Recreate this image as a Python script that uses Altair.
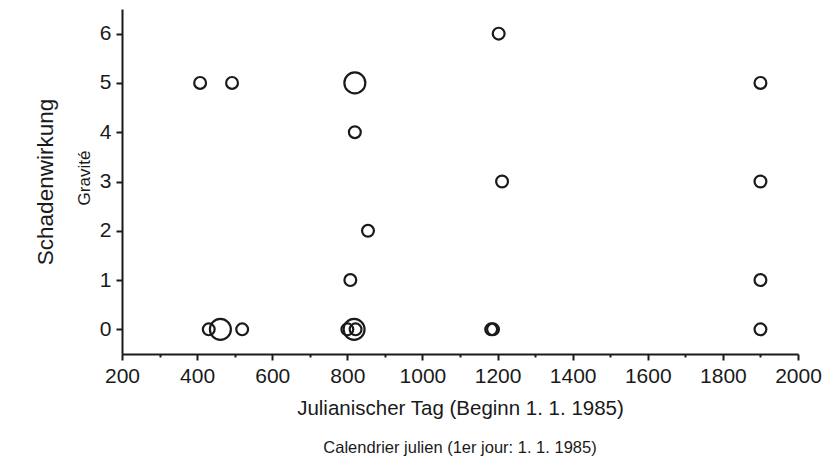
import altair as alt
import pandas as pd

# Data
days = [1203, 408, 493, 820, 1900, 820, 1212, 1900, 855, 808, 1900,
        431, 462, 520, 800, 818, 822, 1183, 1188, 1900]
severity = [6, 5, 5, 5, 5, 4, 3, 3, 2, 1, 1,
            0, 0, 0, 0, 0, 0, 0, 0, 0]
weight = [1, 1, 1, 3, 1, 1, 1, 1, 1, 1, 1,
          1, 3, 1, 1, 3, 1, 1, 1, 1]

x_ticks = list(range(200, 2001, 100))
y_ticks = [0, 0.5, 1, 1.5, 2, 2.5, 3, 3.5, 4, 4.5, 5, 5.5, 6]

x_title = "Julianischer Tag (Beginn 1. 1. 1985)"
x_subtitle = "Calendrier julien (1er jour: 1. 1. 1985)"
y_title = "Schadenwirkung"
y_subtitle = "Gravité"

FONT = "Liberation Sans"
INK = "#1a1a1a"

df = pd.DataFrame({"day": days, "sev": severity, "w": weight})

points = alt.Chart(df).mark_point(
    shape="circle", filled=False, strokeWidth=2.2, color=INK, opacity=1
).encode(
    x=alt.X("day:Q",
            scale=alt.Scale(domain=[200, 2000], nice=False, zero=False),
            axis=alt.Axis(
                values=x_ticks,
                labelExpr="datum.value % 200 == 0 ? datum.label : ''",
                format="d",
                labelFlush=False,
                tickSize=alt.condition("datum.value % 200 == 0", alt.value(6), alt.value(3)),
                title=x_title,
                titleFontSize=20.5,
                titleFontWeight="normal",
                titlePadding=12,
                labelPadding=5,
            )),
    y=alt.Y("sev:Q",
            scale=alt.Scale(domain=[-0.5, 6.5], nice=False, zero=False),
            axis=alt.Axis(
                values=y_ticks,
                format="d",
                labelExpr="datum.value % 1 == 0 ? datum.label : ''",
                labelFlush=False,
                tickSize=alt.condition("datum.value % 1 == 0", alt.value(6), alt.value(3)),
                title=y_title,
                titleFontSize=22.5,
                titleFontWeight="normal",
                titlePadding=42,
                labelPadding=5,
            )),
    size=alt.Size("w:Q", scale=alt.Scale(domain=[1, 3], range=[140, 440]), legend=None),
)

ysub = alt.Chart(pd.DataFrame({"t": [y_subtitle]})).mark_text(
    angle=270, font=FONT, fontSize=17, color=INK, align="center", baseline="middle"
).encode(x=alt.value(-37), y=alt.value(169), text="t:N")

xsub = alt.Chart(pd.DataFrame({"t": [x_subtitle]})).mark_text(
    font=FONT, fontSize=16.5, color=INK, align="center", baseline="middle"
).encode(x=alt.value(338), y=alt.value(439), text="t:N")

chart = alt.layer(points, ysub, xsub).properties(
    width=676, height=345,
    autosize=alt.AutoSizeParams(type="none"),
    padding={"left": 122, "top": 9, "right": 27, "bottom": 115},
    background="white",
).configure_view(stroke=None).configure_axis(
    labelFont=FONT, titleFont=FONT, labelFontSize=21,
    labelColor=INK, titleColor=INK,
    domainColor=INK, domainWidth=2, tickColor=INK, tickWidth=2,
    grid=False,
)

chart.save("out.html", embed_options={"renderer": "svg", "actions": False})
